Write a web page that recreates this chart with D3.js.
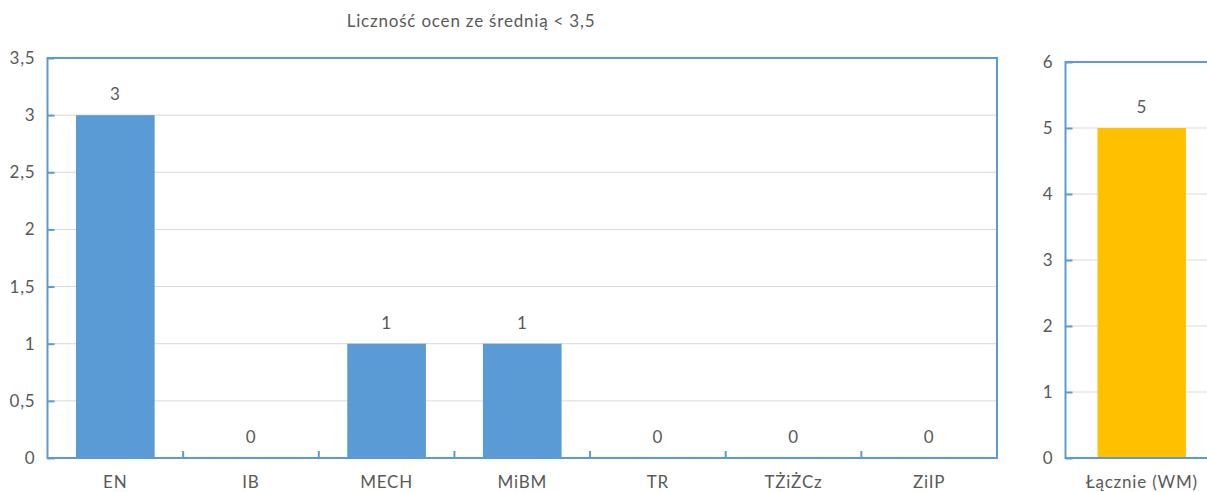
<!DOCTYPE html>
<html><head><meta charset="utf-8">
<script src="https://cdn.jsdelivr.net/npm/d3@7"></script>
<style>body{margin:0;background:#fff;} text{font-family:Lato,"Open Sans",sans-serif;fill:#595959;letter-spacing:0.8px;}</style>
</head><body>
<svg id="c" width="1207" height="492"></svg>
<script>
const title = "Liczność ocen ze średnią < 3,5";
const categories = ["EN","IB","MECH","MiBM","TR","TŻiŻCz","ZiIP"];
const values = [3,0,1,1,0,0,0];
const yTicks = [0,0.5,1,1.5,2,2.5,3,3.5];
const totalCategories = ["Łącznie (WM)"];
const totalValues = [5];
const totalTicks = [0,1,2,3,4,5,6];

const svg = d3.select("#c");
const axisColor = "#5b9bd5";
const fs = 17;
const fmt = d => String(d).replace(".", ",");

function panel(cfg){
  const {x0,x1,y0,y1,cats,vals,ticks,ymax,color} = cfg;
  const x = d3.scaleBand().domain(cats).range([x0,x1]).paddingInner(0.42).paddingOuter(0.21);
  const y = d3.scaleLinear().domain([0,ymax]).range([y1,y0]);
  const g = svg.append("g");
  g.selectAll("line.grid").data(ticks.filter(t=>t>0 && t<ymax)).join("line")
    .attr("x1",x0).attr("x2",x1).attr("y1",d=>y(d)).attr("y2",d=>y(d))
    .attr("stroke","#d9d9d9").attr("stroke-width",1);
  g.selectAll("rect").data(vals).join("rect")
    .attr("x",(d,i)=>x(cats[i])).attr("width",x.bandwidth())
    .attr("y",d=>y(d)).attr("height",d=>y(0)-y(d)).attr("fill",color);
  g.append("rect").attr("x",x0).attr("y",y0).attr("width",x1-x0).attr("height",y1-y0)
    .attr("fill","none").attr("stroke",axisColor).attr("stroke-width",2);
  const ya = d3.axisLeft(y).tickValues(ticks).tickFormat(fmt).tickSizeInner(-7).tickSizeOuter(0).tickPadding(12);
  const yg = g.append("g").attr("transform",`translate(${x0},0)`).call(ya);
  yg.select(".domain").remove();
  yg.attr("font-family",null);
  yg.selectAll("line").attr("stroke",axisColor).attr("stroke-width",2);
  yg.selectAll("text").attr("font-size",fs).style("fill","#595959");
  const bounds = d3.range(1,cats.length).map(i=>x0 + i*(x1-x0)/cats.length);
  g.selectAll("line.xt").data(bounds).join("line")
    .attr("x1",d=>d).attr("x2",d=>d).attr("y1",y1).attr("y2",y1-7)
    .attr("stroke",axisColor).attr("stroke-width",2);
  g.selectAll("text.xl").data(cats).join("text")
    .attr("x",d=>x(d)+x.bandwidth()/2).attr("y",y1+30)
    .attr("text-anchor","middle").attr("font-size",fs).text(d=>d);
  g.selectAll("text.vl").data(vals).join("text")
    .attr("x",(d,i)=>x(cats[i])+x.bandwidth()/2).attr("y",d=>y(d)-15)
    .attr("text-anchor","middle").attr("font-size",fs).text(d=>fmt(d));
}

panel({x0:47.5,x1:997,y0:58,y1:458,cats:categories,vals:values,ticks:yTicks,ymax:3.5,color:"#5b9bd5"});
panel({x0:1065.5,x1:1218,y0:62,y1:458,cats:totalCategories,vals:totalValues,ticks:totalTicks,ymax:6,color:"#ffc000"});

svg.append("text").attr("x",471).attr("y",27).attr("text-anchor","middle").attr("font-size",fs).text(title);
</script>
</body></html>
